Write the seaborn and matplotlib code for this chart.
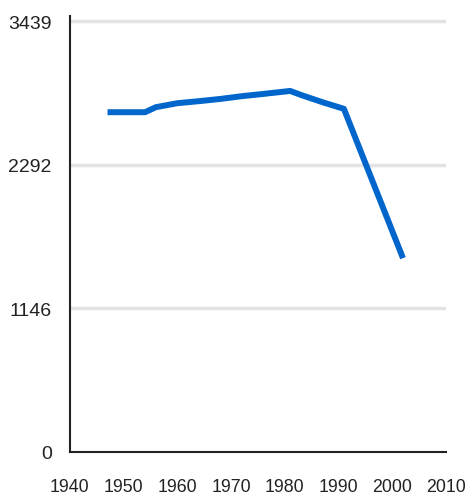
import matplotlib

matplotlib.use("Agg")
import matplotlib.pyplot as plt
import pandas as pd
import seaborn as sns

# values
years = [1947, 1954, 1956, 1960, 1964, 1968, 1972, 1976, 1980, 1981, 1983, 1987, 1991, 2002]
values = [2713, 2713, 2753, 2785, 2801, 2819, 2841, 2859, 2878, 2883, 2851, 2793, 2740, 1547]
y_ticks = [0, 1146, 2292, 3439]
x_ticks = [1940, 1950, 1960, 1970, 1980, 1990, 2000, 2010]

df = pd.DataFrame({"year": years, "value": values})

sns.set_style("white")
plt.rcParams["font.family"] = ["Liberation Sans", "DejaVu Sans"]

fig = plt.figure(figsize=(4.66, 5.02), dpi=100)
ax = fig.add_axes([0.150, 0.098, 0.807, 0.869])

for t in y_ticks[1:]:
    ax.axhline(t, color="#e3e3e3", linewidth=2.5, zorder=0)

sns.lineplot(data=df, x="year", y="value", ax=ax, color="#0066cc",
             linewidth=4.3, solid_capstyle="butt", solid_joinstyle="round")

ax.set_xlim(1940, 2010)
ax.set_ylim(0, 3485)
ax.set_xticks(x_ticks)
ax.set_xticklabels([str(x) for x in x_ticks], fontsize=12.8)
ax.set_yticks(y_ticks)
ax.set_yticklabels([str(y) for y in y_ticks], fontsize=14)
ax.set_xlabel("")
ax.set_ylabel("")

for side in ("top", "right"):
    ax.spines[side].set_visible(False)
for side in ("left", "bottom"):
    ax.spines[side].set_color("#222222")
    ax.spines[side].set_linewidth(1.5)

ax.tick_params(axis="x", direction="out", length=10, width=1.5, color="#222222",
               pad=9, labelcolor="#222222")
ax.tick_params(axis="y", length=0, pad=13, labelcolor="#222222")

fig.savefig("out.png", dpi=100)
plt.close(fig)
